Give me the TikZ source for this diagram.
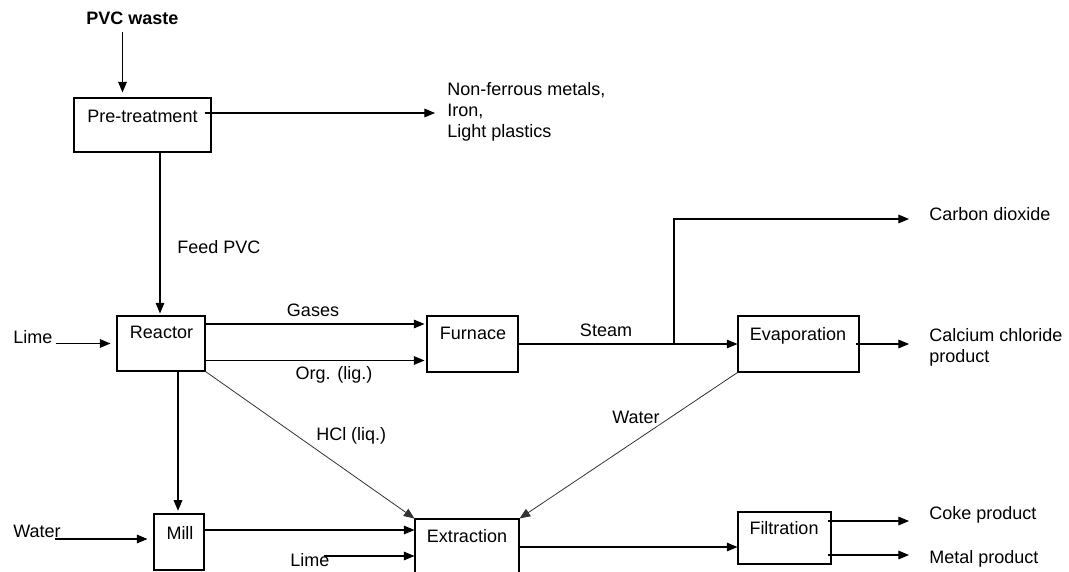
\documentclass[tikz,border=0pt]{standalone}
\usepackage{fontspec}
\setmainfont{Liberation Sans}
\usetikzlibrary{arrows.meta,calc}
\begin{document}
\begin{tikzpicture}[x=0.75pt,y=-0.75pt,
  every node/.style={font=\fontsize{13.5}{16}\selectfont},
  box/.style={draw,line width=0.8pt,inner sep=0pt},
  lbl/.style={inner sep=0pt},
  ln/.style={line width=0.8pt},
  arr/.style={line width=0.8pt,-{Triangle[length=8pt,width=6.5pt]}},
  diag/.style={line width=0.6pt,draw=black!80,-{Triangle[length=8pt,width=6.5pt]}}]
\clip (0,0) rectangle (1069,571);
\fill[white] (0,0) rectangle (1069,571);

% process boxes
\node[box,minimum width=102.75pt,minimum height=40.5pt] (pre) at (142.5,125) {};
\node[box,minimum width=66pt,minimum height=41.25pt] (reactor) at (161,343.5) {};
\node[box,minimum width=68.25pt,minimum height=42pt] (furnace) at (472.5,344) {};
\node[box,minimum width=90.75pt,minimum height=42pt] (evap) at (798.5,344) {};
\node[box,minimum width=37.5pt,minimum height=42pt] (mill) at (179,542) {};
\node[box,minimum width=78pt,minimum height=52.5pt] (extr) at (467,554) {};
\node[box,minimum width=69.75pt,minimum height=39pt] (filt) at (784.5,538) {};

% box texts
\node[lbl,anchor=base] (preT) at (142.5,122) {Pre-treatment};
\node[lbl,anchor=base] (reactT) at (161.5,338) {Reactor};
\node[lbl,anchor=base] (furnT) at (473,339) {Furnace};
\node[lbl,anchor=base] (evapT) at (798,340) {Evaporation};
\node[lbl,anchor=base] (millT) at (180,539) {Mill};
\node[lbl,anchor=base] (extrT) at (467,542) {Extraction};
\node[lbl,anchor=base] (filtT) at (784,534) {Filtration};

% free labels
\node[lbl,anchor=base,font=\fontsize{13.5}{16}\selectfont\bfseries] (pvc) at (132.5,24) {PVC waste};
\node[lbl,anchor=north west,align=left] (byp) at (447,82) {Non-ferrous metals,\\Iron,\\Light plastics};
\node[lbl,anchor=base west] (feed) at (177,253) {Feed PVC};
\node[lbl,anchor=base west] (lime) at (13,343) {Lime};
\node[lbl,anchor=base] (gases) at (313,316) {Gases};
\node[lbl,anchor=base] (org) at (334,379) {Org. (lig.)};
\node[lbl,anchor=base] (steam) at (606,336) {Steam};
\node[lbl,anchor=base west] (co2) at (929,220) {Carbon dioxide};
\node[lbl,anchor=north west,align=left] (calc) at (929,328) {Calcium chloride\\product};
\node[lbl,anchor=base west] (hcl) at (316,440) {HCl (liq.)};
\node[lbl,anchor=base west] (waterD) at (612,423) {Water};
\node[lbl,anchor=base west] (water) at (13,537) {Water};
\node[lbl,anchor=base west] (lime2) at (290,566) {Lime};
\node[lbl,anchor=base west] (coke) at (929,519) {Coke product};
\node[lbl,anchor=base west] (metal) at (929,563) {Metal product};

\coordinate (split) at (674,344);

% connectors
\draw[arr,shorten >=3.75pt] ($(pvc.south)+(-10,8)$) -- ($(pre.north)+(-20,0)$);
\draw[arr,shorten >=9pt] ($(pre.east)+(-7,-12)$) -- ($(pre.east -| byp.west)+(0,-12)$);
\draw[arr,shorten >=1.5pt] ($(pre.south)+(17.5,0)$) -- ($(reactor.north)+(-1,0)$);
\draw[arr,shorten >=4.5pt] ($(lime.base east |- reactor.west)+(3,0)$) -- (reactor.west);
\draw[arr,shorten >=1.5pt] ($(reactor.east)+(0,-19.5)$) -- ($(reactor.east -| furnace.west)+(0,-19.5)$);
\draw[arr,shorten >=1.5pt] ($(reactor.east)+(0,17)$) -- ($(reactor.east -| furnace.west)+(0,17)$);
\draw[arr] (furnace.east) -- (evap.west);
\draw[arr,shorten >=15pt] (split) |- ($(co2.base west)+(0,-1)$);
\draw[arr,shorten >=15pt] ($(evap.east)+(-4,0)$) -- (evap.east -| calc.west);
\draw[arr,shorten >=2pt] ($(reactor.south)+(17,0)$) -- ($(mill.north)+(-1,0)$);
\draw[diag] (reactor.south east) -- (extr.north west);
\draw[diag] (evap.south west) -- (extr.north east);
\draw[arr,shorten >=4.5pt] ($(water.base east)+(-6,2)$) -- ($(water.base east -| mill.west)+(0,2)$);
\draw[arr] ($(mill.east)+(0,-12)$) -- ($(mill.east -| extr.west)+(0,-12)$);
\draw[arr] ($(lime2.base east)+(-6,-10)$) -- ($(lime2.base east -| extr.west)+(0,-10)$);
\draw[arr] ($(extr.east)+(-2,-7)$) -- ($(extr.east -| filt.west)+(0,-7)$);
\draw[arr,shorten >=15pt] ($(filt.east)+(-4,-17)$) -- ($(filt.east -| coke.west)+(0,-17)$);
\draw[arr,shorten >=15pt] ($(filt.east)+(-4,17)$) -- ($(filt.east -| metal.west)+(0,17)$);
\end{tikzpicture}
\end{document}
